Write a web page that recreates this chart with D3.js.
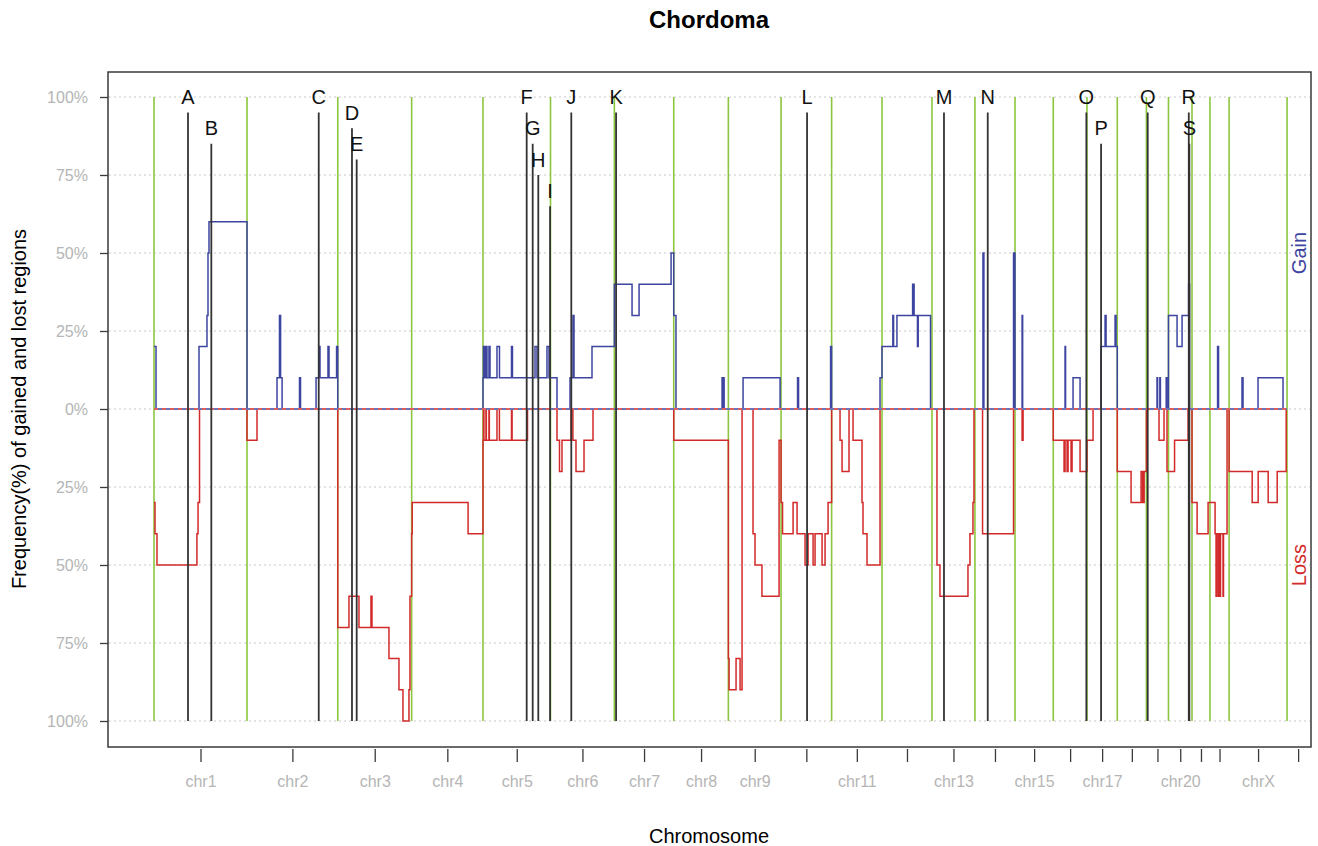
<!DOCTYPE html>
<html>
<head>
<meta charset="utf-8">
<script src="https://cdn.jsdelivr.net/npm/d3@7"></script>
<style>
  body { margin: 0; background: #fff; }
  svg { font-family: "Liberation Sans", Arial, sans-serif; }
</style>
</head>
<body>
<svg></svg>
<script>
const width = 1318;
const height = 846;

// chromosomes (hg19 lengths, Mb)
const chroms = ["chr1","chr2","chr3","chr4","chr5","chr6","chr7","chr8","chr9","chr10","chr11","chr12",
  "chr13","chr14","chr15","chr16","chr17","chr18","chr19","chr20","chr21","chr22","chrX","chrY"];
const chromLen = [249.25,243.2,198.02,191.15,180.92,171.12,159.14,146.36,141.21,135.53,135.01,133.85,
  115.17,107.35,102.53,90.35,81.2,78.08,59.13,63.03,48.13,51.3,155.27,59.37];
const chromLabels = ["chr1","chr2","chr3","chr4","chr5","chr6","chr7","chr8","chr9","","chr11","",
  "chr13","","chr15","","chr17","","","chr20","","","chrX",""];

const yTickValues = [1, 0.75, 0.5, 0.25, 0, -0.25, -0.5, -0.75, -1];
const yTickLabels = ["100%","75%","50%","25%","0%","25%","50%","75%","100%"];

// gain frequency: [chrom, start (Mb), frequency] -- holds until next step
const gainSteps = [
  ["chr1",0,0.2],["chr1",5.4,0],["chr1",120.6,0.2],["chr1",142,0.3],["chr1",144.7,0.5],["chr1",147.4,0.6],
  ["chr2",0,0],["chr2",80.4,0.1],["chr2",87,0.3],["chr2",90,0.1],["chr2",94,0],["chr2",140.7,0.1],["chr2",143.4,0],
  ["chr2",185,0.1],["chr2",193,0.2],["chr2",195.6,0.1],["chr2",217,0.2],["chr2",219.8,0.1],["chr2",240,0.2],
  ["chr3",0,0],
  ["chr5",0,0.1],["chr5",1.3,0.2],["chr5",4,0.1],["chr5",8,0.2],["chr5",10.7,0.1],["chr5",16,0.2],["chr5",18.8,0.1],
  ["chr5",37.5,0.2],["chr5",44.2,0.1],["chr5",76.4,0.2],["chr5",79,0.1],["chr5",139.4,0.2],["chr5",144.7,0.1],
  ["chr5",171.5,0.2],["chr5",176.9,0.1],
  ["chr6",17.4,0],["chr6",52.3,0.1],["chr6",60.3,0.3],["chr6",63,0.1],["chr6",111.2,0.2],
  ["chr7",0,0.4],["chr7",47.4,0.3],["chr7",66.2,0.4],["chr7",152,0.5],
  ["chr8",0,0.3],["chr8",6,0],["chr8",129.5,0.1],["chr8",131,0],["chr8",133.5,0.1],["chr8",135,0],
  ["chr9",39.4,0.1],["chr9",138.6,0],
  ["chr10",44.2,0.1],["chr10",46.9,0],["chr10",132.7,0.2],
  ["chr11",0,0],["chr11",129.7,0.1],
  ["chr12",0,0.2],["chr12",29,0.3],["chr12",31,0.2],["chr12",40,0.3],["chr12",82,0.4],["chr12",86,0.3],
  ["chr12",95,0.2],["chr12",97,0.3],["chr12",130,0],
  ["chr14",21.5,0.5],["chr14",24,0],["chr14",103.4,0.5],
  ["chr15",0,0],["chr15",19,0.3],["chr15",20.5,0],
  ["chr16",31.6,0.2],["chr16",33,0],["chr16",53,0.1],["chr16",71.8,0],
  ["chr17",37.8,0.2],["chr17",48.5,0.3],["chr17",51.2,0.2],["chr17",75.3,0.3],["chr17",78,0.2],
  ["chr18",0,0],
  ["chr19",28.4,0.1],["chr19",30,0],["chr19",36,0.1],["chr19",37.5,0],["chr19",53,0.1],["chr19",55,0],
  ["chr20",0,0.3],["chr20",23,0.2],["chr20",36.4,0.3],["chr20",53.9,0.4],["chr20",56.5,0],
  ["chr22",20.4,0.2],["chr22",23,0],
  ["chrX",34.6,0.1],["chrX",37.3,0],["chrX",77.5,0.1],["chrX",144.5,0]
];

// loss frequency (negative = drawn below 0)
const lossSteps = [
  ["chr1",0,-0.3],["chr1",2.7,-0.4],["chr1",8,-0.5],["chr1",115,-0.4],["chr1",118,-0.3],["chr1",122,0],
  ["chr2",0,-0.1],["chr2",26.8,0],
  ["chr3",0,-0.7],["chr3",30,-0.6],["chr3",56.8,-0.7],["chr3",89,-0.6],["chr3",91.7,-0.7],["chr3",137.2,-0.8],
  ["chr3",164,-0.9],["chr3",174.7,-1],["chr3",190.8,-0.9],["chr3",193.5,-0.6],
  ["chr4",0,-0.4],["chr4",1.5,-0.3],["chr4",151.2,-0.4],
  ["chr5",0,-0.1],["chr5",1.3,0],["chr5",2.5,-0.1],["chr5",8,0],["chr5",9,-0.1],["chr5",16,0],["chr5",17,-0.1],
  ["chr5",37.5,0],["chr5",44,-0.1],["chr5",76.4,0],["chr5",78,-0.1],["chr5",119.3,0],
  ["chr6",17.4,-0.1],["chr6",24.1,-0.2],["chr6",30.8,-0.1],["chr6",55,0],["chr6",60,-0.1],["chr6",68.3,-0.2],
  ["chr6",89.8,-0.1],["chr6",113.9,0],
  ["chr8",0,-0.1],
  ["chr9",0,-0.8],["chr9",1.9,-0.9],["chr9",20.6,-0.8],["chr9",31.4,-0.9],["chr9",36.7,0],["chr9",66.1,-0.4],
  ["chr9",71.4,-0.5],["chr9",90,-0.6],["chr9",135.9,-0.1],
  ["chr10",0,-0.3],["chr10",4,-0.4],["chr10",32.2,-0.3],["chr10",42.9,-0.4],["chr10",64.3,-0.5],["chr10",72.4,-0.4],
  ["chr10",85.8,-0.5],["chr10",91.1,-0.4],["chr10",109.9,-0.5],["chr10",117.9,-0.4],["chr10",126,-0.3],
  ["chr11",0,0],["chr11",22.5,-0.1],["chr11",27.9,-0.2],["chr11",46.6,0],["chr11",57.4,-0.1],["chr11",81.4,-0.3],
  ["chr11",84.1,-0.4],["chr11",94.8,-0.5],["chr11",129.7,0],
  ["chr13",13.4,-0.5],["chr13",21.4,-0.6],["chr13",96.5,-0.5],["chr13",101.8,-0.4],["chr13",109.9,-0.3],["chr13",112.6,0],
  ["chr14",20.4,-0.4],["chr14",103.4,0],
  ["chr15",19,-0.1],["chr15",21.7,0],
  ["chr16",0,-0.1],["chr16",28.9,-0.2],["chr16",31.6,-0.1],["chr16",37,-0.2],["chr16",39.7,-0.1],["chr16",47.7,-0.2],
  ["chr16",50.4,-0.1],["chr16",71.8,-0.2],
  ["chr17",0,-0.1],["chr17",16.3,0],
  ["chr18",0,-0.2],["chr18",37,-0.3],["chr18",63.8,-0.2],["chr18",68,-0.3],["chr18",72,-0.2],
  ["chr19",0,0],["chr19",33.8,-0.1],["chr19",47.2,0],["chr19",55.2,-0.2],
  ["chr20",16.3,-0.1],["chr20",52.5,0],
  ["chr21",0,-0.3],["chr21",13.7,-0.4],["chr21",43.1,-0.3],
  ["chr22",0,-0.3],["chr22",13.7,-0.4],["chr22",16.3,-0.6],["chr22",17.5,-0.4],["chr22",21.7,-0.6],["chr22",23,-0.4],
  ["chr22",27,-0.6],["chr22",28.3,-0.4],["chr22",35,-0.6],["chr22",36.3,-0.4],["chr22",45.8,0],
  ["chrX",0,-0.2],["chrX",61.9,-0.3],["chrX",77.9,-0.2],["chrX",104.7,-0.3],["chrX",128.9,-0.2],["chrX",153,0]
];

// marked loci
const markerNames = ["A","B","C","D","E","F","G","H","I","J","K","L","M","N","O","P","Q","R","S"];
const markerChrom = ["chr1","chr1","chr2","chr3","chr3","chr5","chr5","chr5","chr5","chr6","chr7","chr10",
  "chr13","chr14","chr16","chr17","chr19","chr20","chr20"];
const markerPos = [91.1,153.6,192.2,38.1,50.7,117.1,133.2,148.2,179.8,55.7,4.6,69.7,32.2,34.3,88.7,37.8,3.5,54.4,56];
const markerLevel = [1,0.9,1,0.95,0.85,1,0.9,0.8,0.7,1,1,1,1,1,1,0.9,1,1,0.9];

const gainColor = "#3d45a0";
const lossColor = "#d22a2a";
const chromLineColor = "#8cc63f";

const box = { left: 108, right: 1311, top: 72, bottom: 747 };

const svg = d3.select("svg").attr("width", width).attr("height", height);

// cumulative offsets
const offsets = {};
let acc = 0;
chroms.forEach((c, i) => { offsets[c] = acc; acc += chromLen[i]; });
const genomeEnd = acc;

const x = d3.scaleLinear().domain([0, genomeEnd]).range([154, 1309.2]);
const y = d3.scaleLinear().domain([-1, 1]).range([721, 97]);

// frame
svg.append("rect")
  .attr("x", box.left).attr("y", box.top)
  .attr("width", box.right - box.left).attr("height", box.bottom - box.top)
  .attr("fill", "none").attr("stroke", "#3a3a3a").attr("stroke-width", 1.5);

// grid
svg.append("g")
  .selectAll("line")
  .data(yTickValues)
  .join("line")
  .attr("x1", box.left + 1).attr("x2", box.right - 1)
  .attr("y1", d => y(d)).attr("y2", d => y(d))
  .attr("stroke", "#c8c8c8").attr("stroke-width", 1).attr("stroke-dasharray", "2,3");

// chromosome boundaries
const bounds = chroms.slice(0, 23).map(c => offsets[c]).concat([offsets["chrY"]]);
svg.append("g")
  .selectAll("line")
  .data(bounds)
  .join("line")
  .attr("x1", d => x(d)).attr("x2", d => x(d))
  .attr("y1", y(1)).attr("y2", y(-1))
  .attr("stroke", chromLineColor).attr("stroke-width", 1.6);

// step lines
function toPoints(steps) {
  const pts = steps.map(s => [offsets[s[0]] + s[1], s[2]]);
  pts.push([offsets["chrY"], pts[pts.length - 1][1]]);
  return pts;
}
const stepLine = d3.line().x(d => x(d[0])).y(d => y(d[1])).curve(d3.curveStepAfter);

svg.append("path")
  .attr("d", stepLine(toPoints(lossSteps)))
  .attr("fill", "none").attr("stroke", lossColor).attr("stroke-width", 1.5);

svg.append("path")
  .attr("d", stepLine(toPoints(gainSteps)))
  .attr("fill", "none").attr("stroke", gainColor).attr("stroke-width", 1.5);

// zero line, drawn dashed in both colours
svg.append("line")
  .attr("x1", x(0)).attr("x2", x(offsets["chrY"]))
  .attr("y1", y(0)).attr("y2", y(0))
  .attr("stroke", "#fff").attr("stroke-width", 2);
svg.append("line")
  .attr("x1", x(0)).attr("x2", x(offsets["chrY"]))
  .attr("y1", y(0)).attr("y2", y(0))
  .attr("stroke", lossColor).attr("stroke-width", 1.5).attr("stroke-dasharray", "4,4");
svg.append("line")
  .attr("x1", x(0)).attr("x2", x(offsets["chrY"]))
  .attr("y1", y(0)).attr("y2", y(0))
  .attr("stroke", gainColor).attr("stroke-width", 1.5).attr("stroke-dasharray", "4,4")
  .attr("stroke-dashoffset", 4);

// markers
const markers = markerNames.map((m, i) => ({
  name: m, pos: offsets[markerChrom[i]] + markerPos[i], level: markerLevel[i]
}));
const mg = svg.append("g");
mg.selectAll("line")
  .data(markers)
  .join("line")
  .attr("x1", d => x(d.pos)).attr("x2", d => x(d.pos))
  .attr("y1", d => y(d.level - 0.05)).attr("y2", y(-1))
  .attr("stroke", "#333").attr("stroke-width", 1.8);
mg.selectAll("text")
  .data(markers)
  .join("text")
  .attr("x", d => x(d.pos)).attr("y", d => y(d.level))
  .attr("dy", "0.36em")
  .attr("text-anchor", "middle")
  .attr("font-size", 20)
  .attr("fill", "#111")
  .text(d => d.name);

// y axis
const yAxis = svg.append("g")
  .attr("transform", `translate(${box.left},0)`)
  .call(d3.axisLeft(y).tickValues(yTickValues).tickFormat((d, i) => yTickLabels[i]).tickSize(8).tickPadding(12));
yAxis.select(".domain").remove();
yAxis.selectAll("line").attr("stroke", "#3a3a3a").attr("stroke-width", 1.3);
yAxis.selectAll("text").attr("fill", "#b5b5b5").attr("font-size", 16).attr("font-family", "Liberation Sans, Arial, sans-serif");

// x axis
const mids = chroms.map((c, i) => offsets[c] + chromLen[i] / 2);
const xAxis = svg.append("g")
  .attr("transform", `translate(0,${box.bottom + 2})`)
  .call(d3.axisBottom(x).tickValues(mids).tickFormat((d, i) => chromLabels[i]).tickSize(13).tickPadding(14));
xAxis.select(".domain").remove();
xAxis.selectAll("line").attr("stroke", "#3a3a3a").attr("stroke-width", 1.3);
xAxis.selectAll("text").attr("fill", "#b5b5b5").attr("font-size", 16).attr("font-family", "Liberation Sans, Arial, sans-serif");

// titles
svg.append("text")
  .attr("x", 709).attr("y", 28)
  .attr("text-anchor", "middle")
  .attr("font-size", 24).attr("font-weight", "bold")
  .text("Chordoma");

svg.append("text")
  .attr("x", 709).attr("y", 843)
  .attr("text-anchor", "middle")
  .attr("font-size", 20)
  .text("Chromosome");

svg.append("text")
  .attr("transform", `translate(26,${y(0)}) rotate(-90)`)
  .attr("text-anchor", "middle")
  .attr("font-size", 20)
  .text("Frequency(%) of gained and lost regions");

svg.append("text")
  .attr("transform", `translate(1306,${y(0.5)}) rotate(-90)`)
  .attr("text-anchor", "middle")
  .attr("font-size", 20)
  .attr("fill", gainColor)
  .text("Gain");

svg.append("text")
  .attr("transform", `translate(1306,${y(-0.5)}) rotate(-90)`)
  .attr("text-anchor", "middle")
  .attr("font-size", 20)
  .attr("fill", lossColor)
  .text("Loss");
</script>
</body>
</html>
